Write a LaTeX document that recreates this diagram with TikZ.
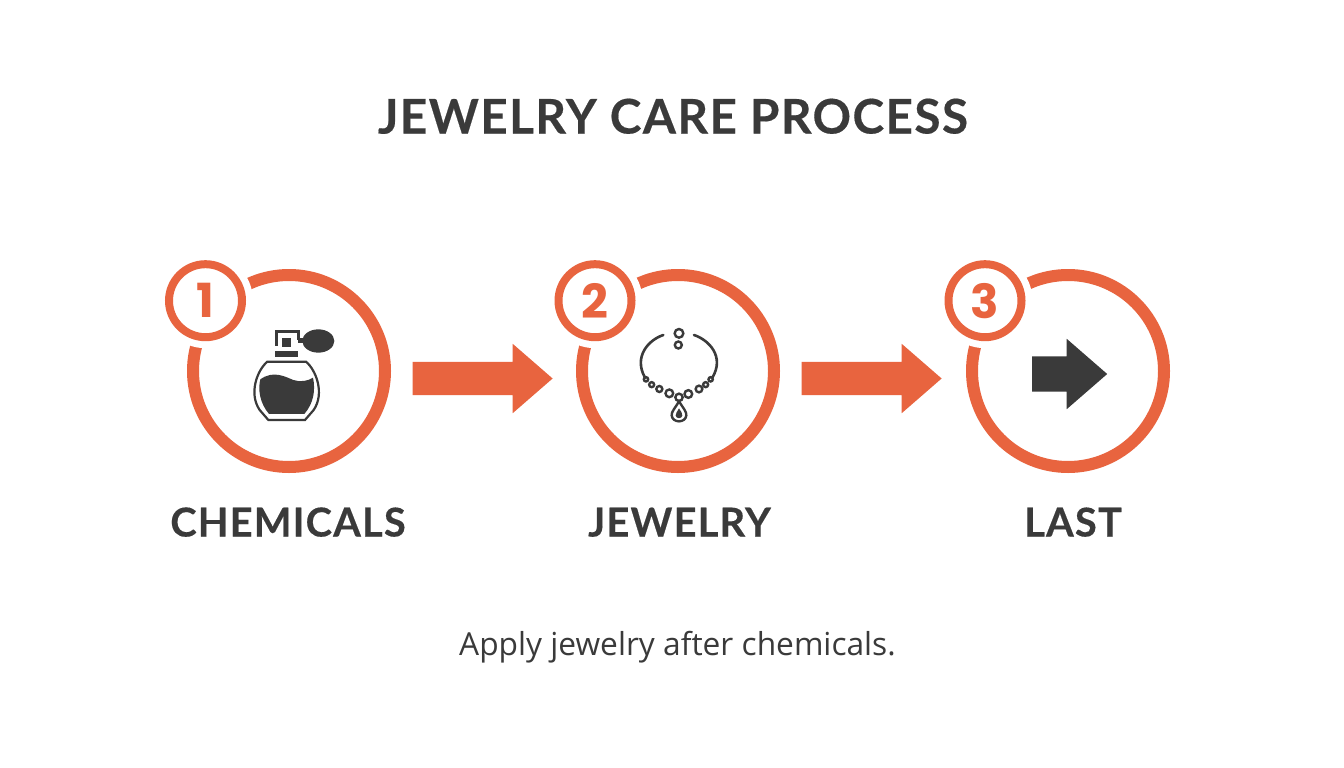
\documentclass[tikz,border=0pt]{standalone}
\usepackage{fontspec}
\setmainfont{Open Sans}
\newfontfamily\headfont[LetterSpace=3,BoldFeatures={FakeBold=0.35}]{Lato}
\newfontfamily\digitfont{Poppins}
\usetikzlibrary{shapes.arrows}
\definecolor{accent}{HTML}{E8643F}
\definecolor{ink}{HTML}{3A3A3A}
\tikzset{
  ring/.style={circle,draw=accent,line width=12pt,fill=white,minimum size=192pt,inner sep=0pt,outer sep=0pt},
  halo/.style={circle,fill=white,minimum size=95pt,inner sep=0pt,outer sep=0pt},
  badge/.style={circle,draw=accent,line width=8pt,fill=white,minimum size=73pt,inner sep=0pt,outer sep=0pt,text=accent,font=\digitfont\fontsize{47}{47}\selectfont\bfseries},
  blockarrow/.style={single arrow,fill=accent,minimum height=140pt,minimum width=69pt,inner sep=0pt,outer sep=0pt,text height=33pt,text depth=0pt,text width=0pt,single arrow head extend=18pt,single arrow tip angle=82},
  darkarrow/.style={single arrow,fill=ink,minimum height=75pt,minimum width=70pt,inner sep=0pt,outer sep=0pt,text height=35pt,text depth=0pt,text width=0pt,single arrow head extend=17.5pt,single arrow tip angle=82},
  steplabel/.style={text=ink,font=\headfont\fontsize{39.8}{40}\selectfont\bfseries,anchor=base},
  icon/.style={draw=ink,line width=2.2pt},
}
\begin{document}
\begin{tikzpicture}[x=1pt,y=-1pt]
\useasboundingbox (0,0) rectangle (1344,768);
\fill[white] (0,0) rectangle (1344,768);
\node[text=ink,font=\headfont\fontsize{47.7}{48}\selectfont\bfseries,anchor=base] (title) at (673,133.5) {JEWELRY CARE PROCESS};
% rings
\node[ring] (c1) at (289,371) {};
\node[ring] (c2) at (678,371) {};
\node[ring] (c3) at (1068,371) {};
\node[halo] at (205.5,300.7) {};
\node[halo] at (595,300.7) {};
\node[halo] at (985,300.7) {};
\node[badge] (b1) at (205.5,300.7) {1};
\node[badge] (b2) at (595,300.7) {2};
\node[badge] (b3) at (985,300.7) {3};
% arrows
\node[blockarrow] (a1) at (473,378.5) {};
\node[blockarrow] (a2) at (862,378.5) {};
\node[darkarrow] (a3) at (1059.5,374) {};
% perfume
\begin{scope}[shift={(235,315)},x=0.3333pt,y=-0.3333pt]
  \draw[icon,line width=2.4pt] (125,92) -- (125,50) -- (190,50) -- (190,76);
  \fill[ink] (140,68) rectangle (168,97);
  \fill[ink] (120,107) rectangle (190,127);
  \fill[ink] (190,70) rectangle (215,84);
  \fill[ink] (250,78) ellipse [x radius=48,y radius=35];
  \draw[icon] (97,140) -- (213,140) .. controls (243,165) and (270,235) .. (236,285) -- (210,315) -- (100,315) -- (74,285) .. controls (40,235) and (67,165) .. (97,140) -- cycle;
  \fill[ink] (76,193) .. controls (115,165) and (150,185) .. (175,195)
     .. controls (195,202) and (220,198) .. (234,188)
     .. controls (242,225) and (236,265) .. (208,297) -- (102,297)
     .. controls (75,265) and (68,225) .. (76,193) -- cycle;
\end{scope}
% necklace
\begin{scope}[shift={(620,310)},x=0.3333pt,y=-0.3333pt]
  \draw[icon,line width=2.6pt,line cap=round] (130,75) .. controls (85,90) and (40,140) .. (75,203);
  \draw[icon,line width=2.6pt,line cap=round] (222,75) .. controls (267,90) and (315,140) .. (277,203);
  \foreach \px/\py/\pr in {177/70/13,175/105/10.5,177/262/11,148/250/11.5,205/252/11.5,118/237/9,237/237/10,95/224/7.5,257/224/7.5,78/208/6.5,272/208/6.5}
    \draw[icon,line width=2.4pt] (\px,\py) circle [radius=\pr];
  \draw[icon,line width=2.4pt] (177,274) .. controls (190,295) and (200,305) .. (199,316) .. controls (197,340) and (157,340) .. (155,316) .. controls (154,305) and (165,295) .. (177,274) -- cycle;
  \fill[ink] (177,295) .. controls (183,305) and (188,310) .. (187,317) .. controls (185,327) and (169,327) .. (167,317) .. controls (166,310) and (172,305) .. (177,295) -- cycle;
\end{scope}
% labels
\node[steplabel] (l1) at (288,536.5) {CHEMICALS};
\node[steplabel] (l2) at (679.5,536.5) {JEWELRY};
\node[steplabel] (l3) at (1073,536.5) {LAST};
\node[text=ink,font=\fontsize{31.7}{32}\selectfont,anchor=base] (cap) at (677.5,655) {Apply jewelry after chemicals.};
\end{tikzpicture}
\end{document}
